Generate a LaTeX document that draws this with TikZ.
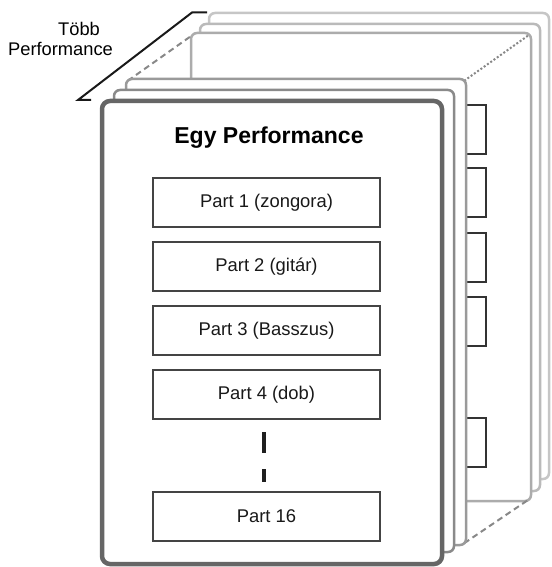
\documentclass[tikz,border=0pt]{standalone}
\usepackage{fontspec}
\setmainfont{Liberation Sans}
\definecolor{frontc}{HTML}{666666}
\definecolor{p2c}{HTML}{8A8A8A}
\definecolor{p3c}{HTML}{9A9A9A}
\definecolor{p4c}{HTML}{ACACAC}
\definecolor{p5c}{HTML}{BABABA}
\definecolor{p6c}{HTML}{C6C6C6}
\definecolor{linkc}{HTML}{888888}
\definecolor{tabc}{HTML}{333333}
\definecolor{partc}{HTML}{444444}
\begin{document}
\begin{tikzpicture}[x=1pt,y=-1pt,
  panel/.style={draw, fill=white, rounded corners=6pt, inner sep=0pt, outer sep=0pt,
    anchor=north west, minimum width=340pt, line width=2.5pt},
  tabbox/.style={draw=tabc, fill=white, line width=1.2pt, inner sep=0pt, outer sep=0pt,
    anchor=north west, minimum width=20pt, minimum height=49pt},
  partbox/.style={draw=partc, fill=white, line width=1.3pt, inner sep=0pt, outer sep=0pt,
    minimum width=227pt, minimum height=49pt, text=black!90,
    font=\fontsize{18.4}{22}\selectfont},
  stacklink/.style={draw=linkc, line width=2pt},
  plain/.style={font=\fontsize{18.3}{22}\selectfont, anchor=base, inner sep=0pt}]
\useasboundingbox (0,0) rectangle (551,567);

% stack of performances behind the front one
\node[panel, draw=p6c, minimum height=466pt] (p6) at (209,13) {};
\node[panel, draw=p5c, minimum height=467pt] (p5) at (200,24) {};
\node[panel, draw=p4c, minimum height=468pt] (p4) at (191,33) {};

% parts peeking out on the right of the third sheet
\node[tabbox] (t1) at (466,105) {};
\node[tabbox] (t2) at (466,168) {};
\node[tabbox] (t3) at (466,233) {};
\node[tabbox] (t4) at (466,297) {};
\node[tabbox] (t5) at (466,418) {};

% corners of the third sheet, where the depth lines start
\coordinate (c3nw) at (127.8,80.8);
\coordinate (c3ne) at (464.2,80.8);
\coordinate (c3se) at (464.2,543.2);

% depth lines of the stack
\draw[stacklink, dash pattern=on 6pt off 4pt] (c3nw) -- ([shift={(1.8,1.8)}]p4.north west);
\draw[stacklink, dash pattern=on 2pt off 2pt] (c3ne) -- ([shift={(-1.8,1.8)}]p4.north east);
\draw[stacklink, dash pattern=on 6pt off 4pt] (c3se) -- ([shift={(-1.8,-1.8)}]p4.south east);

\node[panel, draw=p3c, minimum height=466pt] (p3) at (126,79) {};
\node[panel, draw=p2c, minimum height=462pt] (p2) at (114,90) {};

% the front performance
\node[panel, draw=frontc, line width=4.5pt, rounded corners=8pt, minimum height=463pt] (p1) at (102,101) {};

\node[font=\bfseries\fontsize{23}{27}\selectfont, anchor=base, inner sep=0pt] (title) at (269,143) {Egy Performance};

\node[partbox] (pt1) at (266.5,202.5) {Part 1 (zongora)};
\node[partbox] (pt2) at (266.5,266.5) {Part 2 (gitár)};
\node[partbox] (pt3) at (266.5,330.5) {Part 3 (Basszus)};
\node[partbox] (pt4) at (266.5,394.5) {Part 4 (dob)};
\node[partbox] (pt16) at (266.5,516.5) {Part 16};

% parts 5 to 15 left out
\draw[draw=black!88, line width=4.5pt, dash pattern=on 0pt off 13pt on 21pt off 16pt on 13pt off 20pt]
  ([xshift=-2.3pt]pt4.south) -- ([xshift=-2.3pt]pt16.north);

% label of the whole stack
\node[plain] (tobb) at (79,36) {Több};
\node[plain] (perf) at (60.5,56) {Performance};
\coordinate (br1) at (91,100);
\coordinate (br2) at (78,100);
\coordinate (br3) at (192,12.5);
\coordinate (br4) at (207,12.5);
\draw[line width=2pt, black!90] (br1) -- (br2) -- (br3) -- (br4);
\end{tikzpicture}
\end{document}
